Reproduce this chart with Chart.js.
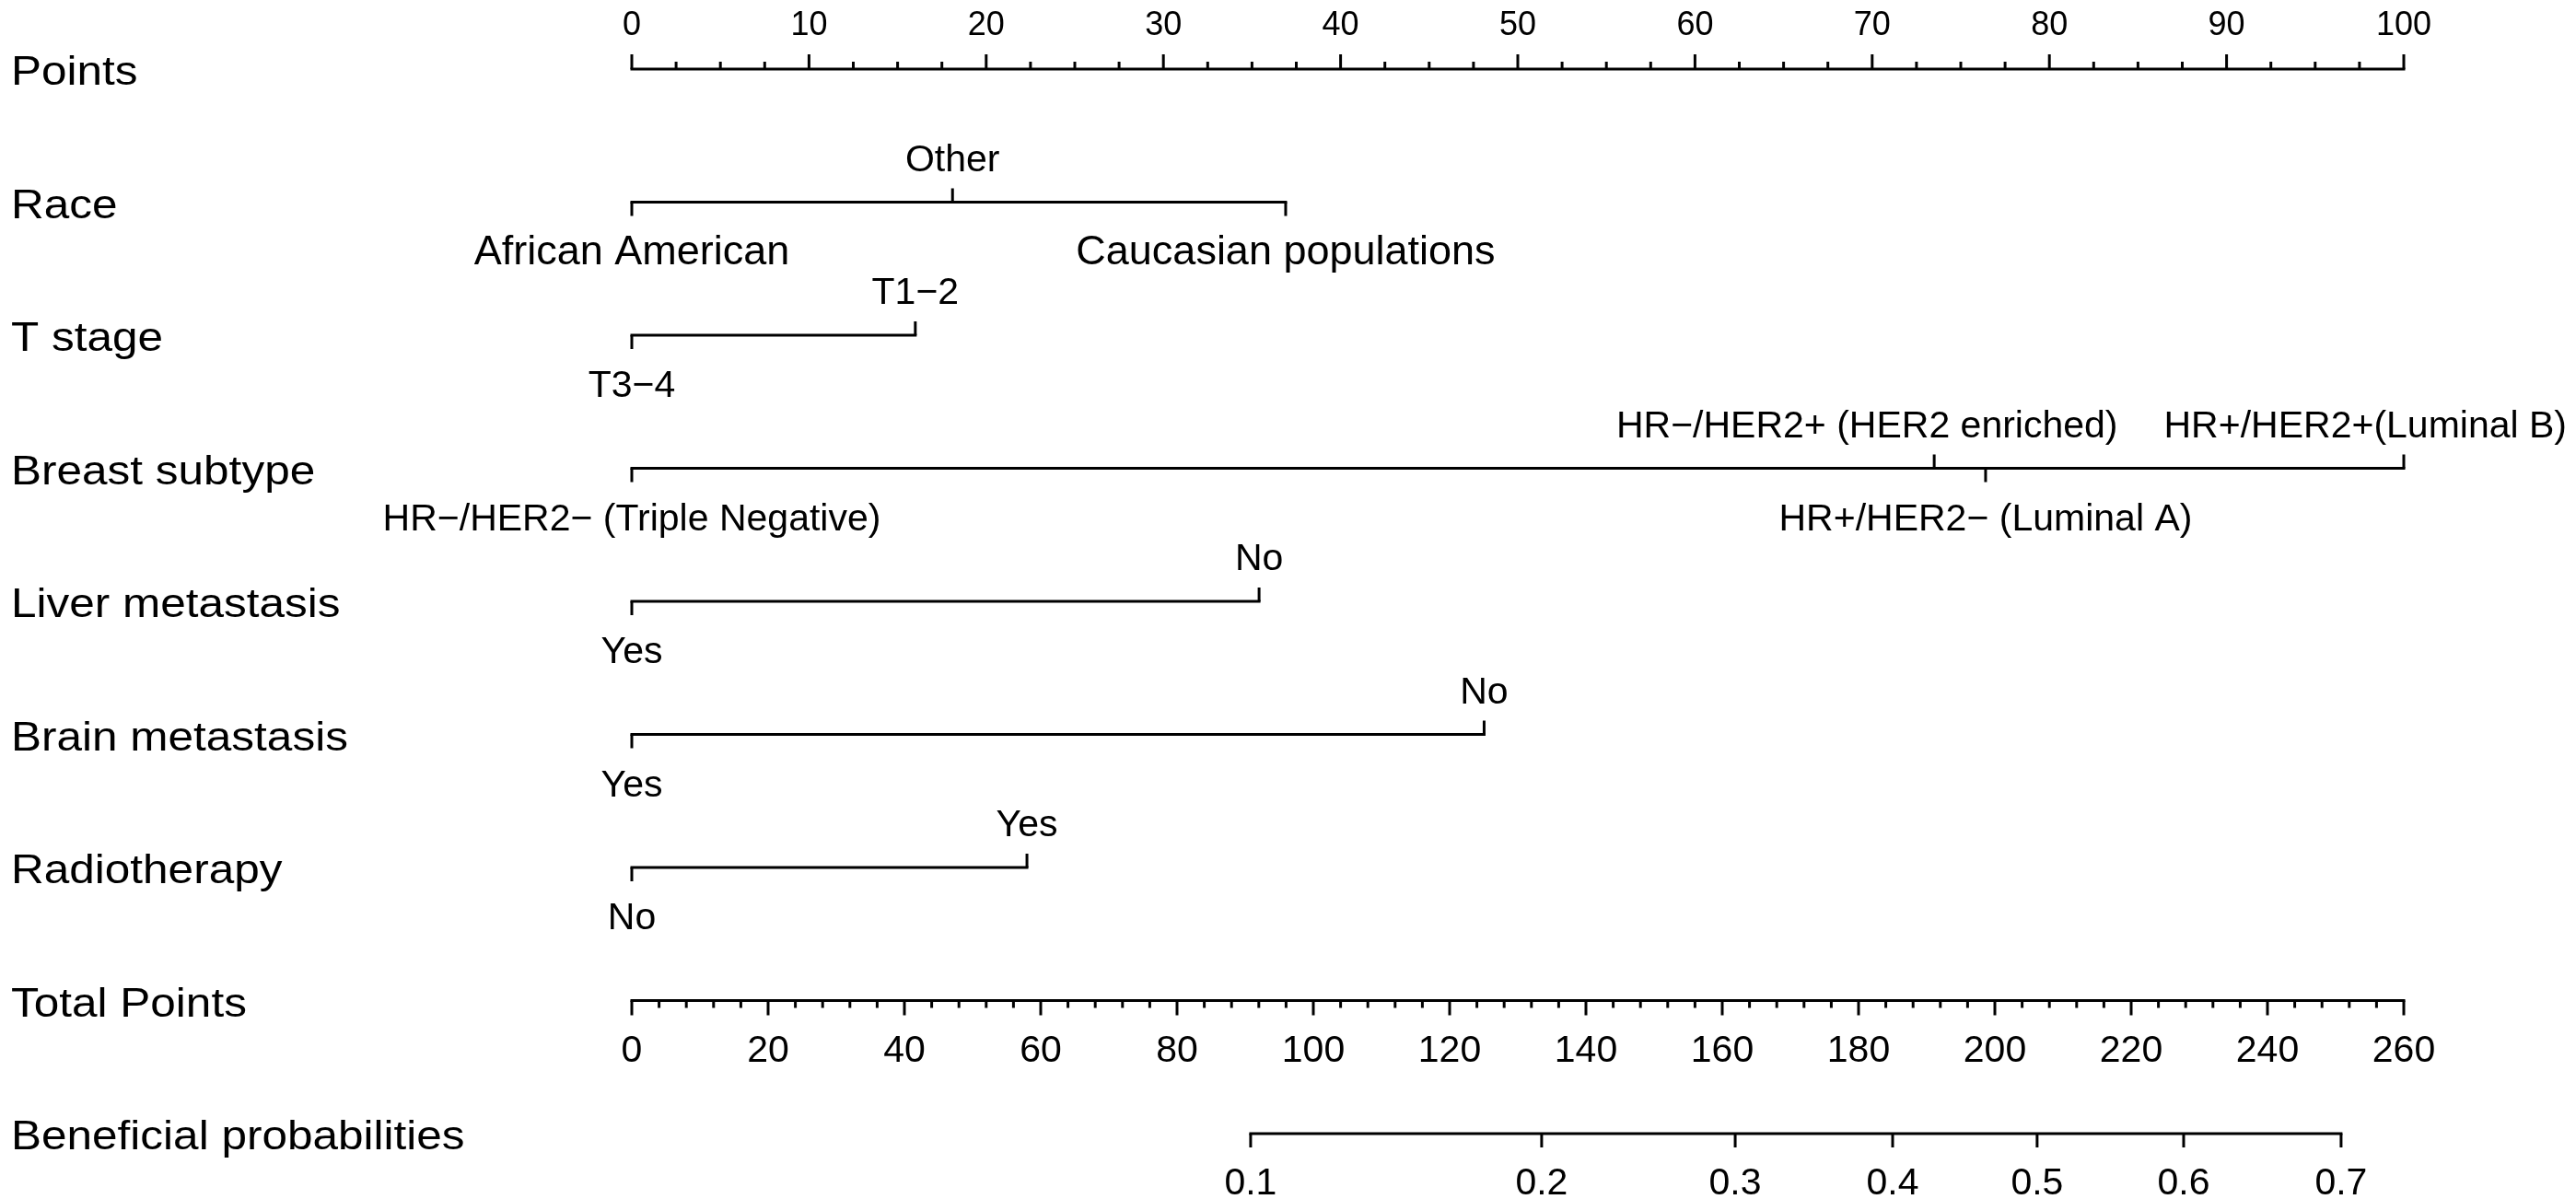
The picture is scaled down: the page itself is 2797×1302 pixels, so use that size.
<!DOCTYPE html>
<html lang="en">
<head>
<meta charset="UTF-8">
<title>Nomogram: Beneficial probabilities</title>
<script src="https://cdn.jsdelivr.net/npm/chart.js"></script>
<style>
  html, body { margin: 0; padding: 0; background: #fff; }
  #wrap { width: 2797px; height: 1302px; }
</style>
</head>
<body>
<div id="wrap"><canvas id="nomo" width="2797" height="1302"></canvas></div>
<script>
// row labels, top to bottom
const rowNames = ['Points', 'Race', 'T stage', 'Breast subtype', 'Liver metastasis',
                  'Brain metastasis', 'Radiotherapy', 'Total Points', 'Beneficial probabilities'];

// axis tick labels
const pointsTicks = [0, 10, 20, 30, 40, 50, 60, 70, 80, 90, 100];
const totalTicks = [0, 20, 40, 60, 80, 100, 120, 140, 160, 180, 200, 220, 240, 260];
const probLabels = ['0.1', '0.2', '0.3', '0.4', '0.5', '0.6', '0.7'];
const probTotals = [90.8, 133.5, 161.9, 185.0, 206.2, 227.7, 250.8]; // where each prob sits on Total Points

// predictors: levels and their points
const raceLevels = ['African American', 'Other', 'Caucasian populations'];
const racePoints = [0, 18.1, 36.9];
const tLevels = ['T3\u22124', 'T1\u22122'];
const tPoints = [0, 16.0];
const subtypeLevels = ['HR\u2212/HER2\u2212 (Triple Negative)', 'HR\u2212/HER2+ (HER2 enriched)',
                       'HR+/HER2\u2212 (Luminal A)', 'HR+/HER2+(Luminal B)'];
const subtypePoints = [0, 73.5, 76.4, 100];
const liverLevels = ['Yes', 'No'];
const liverPoints = [0, 35.4];
const brainLevels = ['Yes', 'No'];
const brainPoints = [0, 48.1];
const radioLevels = ['No', 'Yes'];
const radioPoints = [0, 22.3];

const variables = [
    { levels: raceLevels, points: racePoints, row: 1 },
    { levels: tLevels, points: tPoints, row: 2 },
    { levels: subtypeLevels, points: subtypePoints, row: 3 },
    { levels: liverLevels, points: liverPoints, row: 4 },
    { levels: brainLevels, points: brainPoints, row: 5 },
    { levels: radioLevels, points: radioPoints, row: 6 }
];

const FONT = '"Liberation Sans", Arial, Helvetica, sans-serif';
const LW = 3;
// these two labels are set a little larger in the original figure
const largeLabels = ['African American', 'Caucasian populations'];

function lineSet(data, xAxisID) {
    return {
        data: data,
        xAxisID: xAxisID || 'x',
        showLine: true,
        borderColor: '#000',
        borderWidth: LW,
        borderCapStyle: 'square',
        pointRadius: 0,
        clip: false
    };
}

const datasets = [
    lineSet(pointsTicks.map(t => ({ x: t, y: 0 }))),
    ...variables.map(v => lineSet(v.points.map(p => ({ x: p, y: v.row })))),
    lineSet(totalTicks.map(t => ({ x: t, y: 7 })), 'xt'),
    lineSet(probTotals.map(t => ({ x: t, y: 8 })), 'xt')
];

function tick(ctx, x, y, len) {
    ctx.beginPath();
    ctx.moveTo(x, y);
    ctx.lineTo(x, y + len);
    ctx.stroke();
}

// ticks and text of the nomogram, placed with the chart's own scales
const nomogramPlugin = {
    id: 'nomogram',
    afterDatasetsDraw(chart) {
        const ctx = chart.ctx;
        const xs = chart.scales.x, xt = chart.scales.xt, ys = chart.scales.y;
        ctx.save();
        ctx.strokeStyle = '#000';
        ctx.fillStyle = '#000';
        ctx.lineWidth = LW;
        ctx.lineCap = 'butt';

        // row names (the original text is a bit wide)
        ctx.font = '45px ' + FONT;
        ctx.textAlign = 'left';
        ctx.textBaseline = 'alphabetic';
        rowNames.forEach((name, i) => {
            ctx.save();
            ctx.translate(12, ys.getPixelForValue(i) + 17);
            ctx.scale(1.1, 1);
            ctx.fillText(name, 0, 0);
            ctx.restore();
        });

        // Points axis (ticks up, labels above)
        const y0 = ys.getPixelForValue(0);
        for (let v = 0; v <= 100; v += 2.5) {
            tick(ctx, xs.getPixelForValue(v), y0, v % 10 === 0 ? -16 : -8);
        }
        ctx.font = '36px ' + FONT;
        ctx.textAlign = 'center';
        pointsTicks.forEach(t => ctx.fillText(String(t), xs.getPixelForValue(t), y0 - 37));

        // predictor rows: labels alternate below / above in order of points
        variables.forEach(v => {
            const yr = ys.getPixelForValue(v.row);
            const items = v.levels.map((txt, i) => ({ txt: txt, p: v.points[i] }))
                .sort((a, b) => a.p - b.p)
                .map((it, i) => {
                    const font = (largeLabels.includes(it.txt) ? '45px ' : '41px ') + FONT;
                    ctx.font = font;
                    return {
                        txt: it.txt,
                        font: font,
                        x: xs.getPixelForValue(it.p),
                        w: ctx.measureText(it.txt).width,
                        above: i % 2 === 1
                    };
                });
            items.forEach(it => tick(ctx, it.x, yr, it.above ? -15 : 15));
            [true, false].forEach(side => {
                const group = items.filter(it => it.above === side);
                let limit = chart.width - 10;
                for (let i = group.length - 1; i >= 0; i--) {
                    const it = group[i];
                    let cx = it.x;
                    if (cx + it.w / 2 > limit) cx = limit - it.w / 2;
                    ctx.font = it.font;
                    ctx.fillText(it.txt, cx, side ? yr - 34 : yr + 67);
                    limit = cx - it.w / 2 - 50;
                }
            });
        });

        // Total Points axis (ticks down, labels below)
        const y7 = ys.getPixelForValue(7);
        for (let v = 0; v <= 260; v += 4) {
            tick(ctx, xt.getPixelForValue(v), y7, v % 20 === 0 ? 16 : 8);
        }
        ctx.font = '41px ' + FONT;
        totalTicks.forEach(t => ctx.fillText(String(t), xt.getPixelForValue(t), y7 + 66));

        // Beneficial probabilities axis
        const y8 = ys.getPixelForValue(8);
        probTotals.forEach((t, i) => {
            const px = xt.getPixelForValue(t);
            tick(ctx, px, y8, 15);
            ctx.fillText(probLabels[i], px, y8 + 66);
        });

        ctx.restore();
    }
};

new Chart(document.getElementById('nomo'), {
    type: 'scatter',
    data: { datasets: datasets },
    options: {
        responsive: false,
        animation: false,
        devicePixelRatio: 1,
        layout: { padding: { left: 686, right: 187, top: 75, bottom: 71 } },
        scales: {
            x: { type: 'linear', min: 0, max: 100, display: false },
            xt: { type: 'linear', axis: 'x', min: 0, max: 260, display: false },
            y: { type: 'linear', min: 0, max: 8, reverse: true, display: false }
        },
        plugins: { legend: { display: false }, tooltip: { enabled: false } }
    },
    plugins: [nomogramPlugin]
});
</script>
</body>
</html>
